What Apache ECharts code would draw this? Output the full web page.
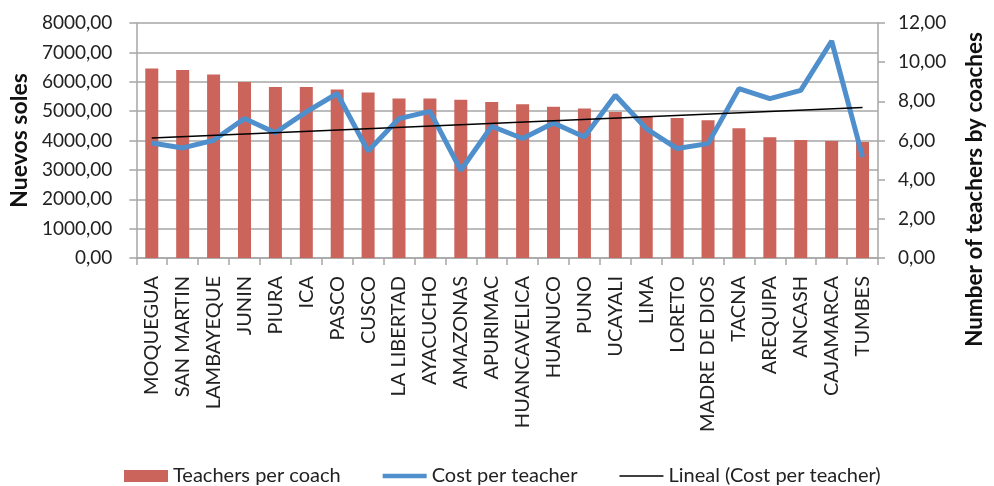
<!DOCTYPE html>
<html>
<head>
<meta charset="utf-8">
<script src="https://cdn.jsdelivr.net/npm/echarts@6/dist/echarts.min.js"></script>
<style>html,body{margin:0;padding:0;background:#fff;}#c{width:994px;height:486px;}</style>
</head>
<body>
<div id="c"></div>
<script>
const categories = ['MOQUEGUA','SAN MARTIN','LAMBAYEQUE','JUNIN','PIURA','ICA','PASCO','CUSCO','LA LIBERTAD','AYACUCHO','AMAZONAS','APURIMAC','HUANCAVELICA','HUANUCO','PUNO','UCAYALI','LIMA','LORETO','MADRE DE DIOS','TACNA','AREQUIPA','ANCASH','CAJAMARCA','TUMBES'];
const teachersPerCoach = [6450,6400,6250,5990,5820,5820,5740,5630,5430,5430,5390,5310,5230,5150,5090,4970,4820,4770,4690,4420,4110,4020,3980,3950];
const costPerTeacher = [5.87,5.62,6.01,7.12,6.40,7.46,8.40,5.46,7.12,7.49,4.48,6.73,6.10,6.89,6.18,8.31,6.61,5.59,5.84,8.65,8.14,8.56,11.08,5.16];
const trendStart = 6.13;
const trendEnd = 7.68;
const leftTicks = {min: 0, max: 8000, interval: 1000};
const rightTicks = {min: 0, max: 12, interval: 2};

const FONT = 'Lato';
const fmt = v => v.toFixed(2).replace('.', ',');
const gridColor = '#a6a6a6';

const chart = echarts.init(document.getElementById('c'), null, {renderer: 'canvas'});
chart.setOption({
  animation: false,
  textStyle: {fontFamily: FONT},
  grid: {left: 134, right: 103, top: 23, bottom: 228, containLabel: false},
  legend: {
    top: 461, left: 119,
    itemWidth: 44, itemHeight: 12, itemGap: 42,
    textStyle: {fontFamily: FONT, fontSize: 20, color: '#222'},
    data: [
      {name: 'Teachers per coach', icon: 'rect'},
      {name: 'Cost per teacher', icon: 'path://M0,0 L44,0 L44,4.5 L0,4.5 Z'},
      {name: 'Lineal (Cost per teacher)', icon: 'path://M0,0 L44,0 L44,1.6 L0,1.6 Z'}
    ]
  },
  xAxis: {
    type: 'category',
    data: categories,
    boundaryGap: true,
    axisLine: {lineStyle: {color: gridColor, width: 1.5}},
    axisTick: {show: true, length: 7, alignWithLabel: false, lineStyle: {color: gridColor, width: 1.5}},
    axisLabel: {rotate: 90, interval: 0, margin: 18, fontFamily: FONT, fontSize: 20, color: '#222'}
  },
  yAxis: [
    {
      type: 'value', min: leftTicks.min, max: leftTicks.max, interval: leftTicks.interval,
      name: 'Nuevos soles', nameLocation: 'middle', nameRotate: 90, nameGap: 98,
      nameTextStyle: {fontFamily: FONT, fontSize: 23, fontWeight: 'bold', color: '#111'},
      axisLine: {show: true, lineStyle: {color: gridColor, width: 1.5}},
      axisTick: {show: true, length: 7, lineStyle: {color: gridColor, width: 1.5}},
      splitLine: {show: true, lineStyle: {color: gridColor, width: 1.5}},
      axisLabel: {margin: 24, fontFamily: FONT, fontSize: 19, color: '#222', formatter: fmt}
    },
    {
      type: 'value', min: rightTicks.min, max: rightTicks.max, interval: rightTicks.interval,
      position: 'right',
      name: 'Number of teachers by coaches', nameLocation: 'middle', nameRotate: 90, nameGap: 85,
      nameTextStyle: {fontFamily: FONT, fontSize: 22.5, fontWeight: 'bold', color: '#111', padding: [0, 98, 0, 0]},
      axisLine: {show: true, lineStyle: {color: gridColor, width: 1.5}},
      axisTick: {show: true, length: 7, lineStyle: {color: gridColor, width: 1.5}},
      splitLine: {show: false},
      axisLabel: {margin: 20, fontFamily: FONT, fontSize: 19, color: '#222', formatter: fmt}
    }
  ],
  series: [
    {
      name: 'Teachers per coach', type: 'bar', yAxisIndex: 0, barWidth: 13,
      itemStyle: {color: '#CB645B'},
      data: teachersPerCoach
    },
    {
      name: 'Cost per teacher', type: 'line', yAxisIndex: 1, symbol: 'none',
      lineStyle: {color: '#4E8FCC', width: 5}, itemStyle: {color: '#4E8FCC'},
      data: costPerTeacher
    },
    {
      name: 'Lineal (Cost per teacher)', type: 'line', yAxisIndex: 1, symbol: 'none',
      lineStyle: {color: '#000', width: 1.5}, itemStyle: {color: '#000'},
      data: [[categories[0], trendStart], [categories[categories.length - 1], trendEnd]]
    }
  ]
});
</script>
</body>
</html>
